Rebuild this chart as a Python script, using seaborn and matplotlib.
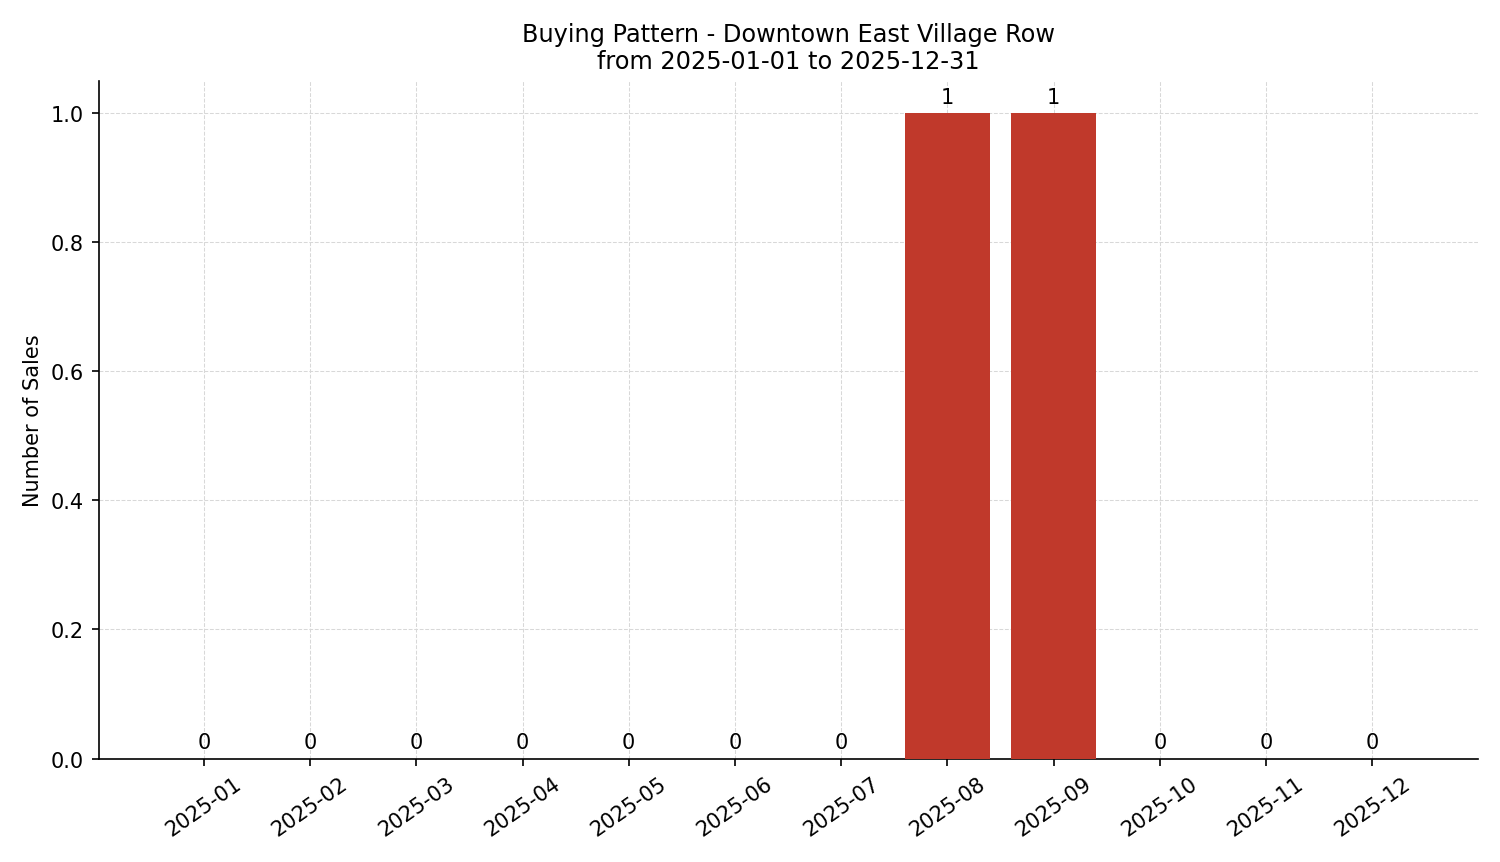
import matplotlib
matplotlib.use("Agg")
import matplotlib.pyplot as plt
import seaborn as sns
import pandas as pd

months = ["2025-01","2025-02","2025-03","2025-04","2025-05","2025-06",
          "2025-07","2025-08","2025-09","2025-10","2025-11","2025-12"]
sales = [0,0,0,0,0,0,0,1,1,0,0,0]

plt.rcdefaults()
plt.rcParams['font.family'] = ['DejaVu Sans']
df = pd.DataFrame({"month": months, "sales": sales})

fig, ax = plt.subplots(figsize=(10.0, 5.753), dpi=150)
sns.barplot(data=df, x="month", y="sales", color="#c0392b", saturation=1, width=0.8,
            ax=ax, zorder=3, edgecolor="none", linewidth=0)
ax.set_xlim(-0.99, 11.99)
ax.set_ylim(0, 1.05)
for c in ax.containers:
    ax.bar_label(c, padding=3, fontsize=10)
ax.grid(True, linestyle="--", linewidth=0.5, color="#d8d8d8", zorder=0)
ax.set_axisbelow(True)
sns.despine(ax=ax)
ax.set_xlabel("")
ax.set_ylabel("Number of Sales", fontsize=10)
ax.set_title("Buying Pattern - Downtown East Village Row\nfrom 2025-01-01 to 2025-12-31", fontsize=11.5)
ax.tick_params(axis="x", rotation=35, labelsize=10)
ax.tick_params(axis="y", labelsize=10)
for lbl in ax.get_xticklabels():
    lbl.set_ha("center")
fig.tight_layout()
fig.savefig("out.png", dpi=150)
